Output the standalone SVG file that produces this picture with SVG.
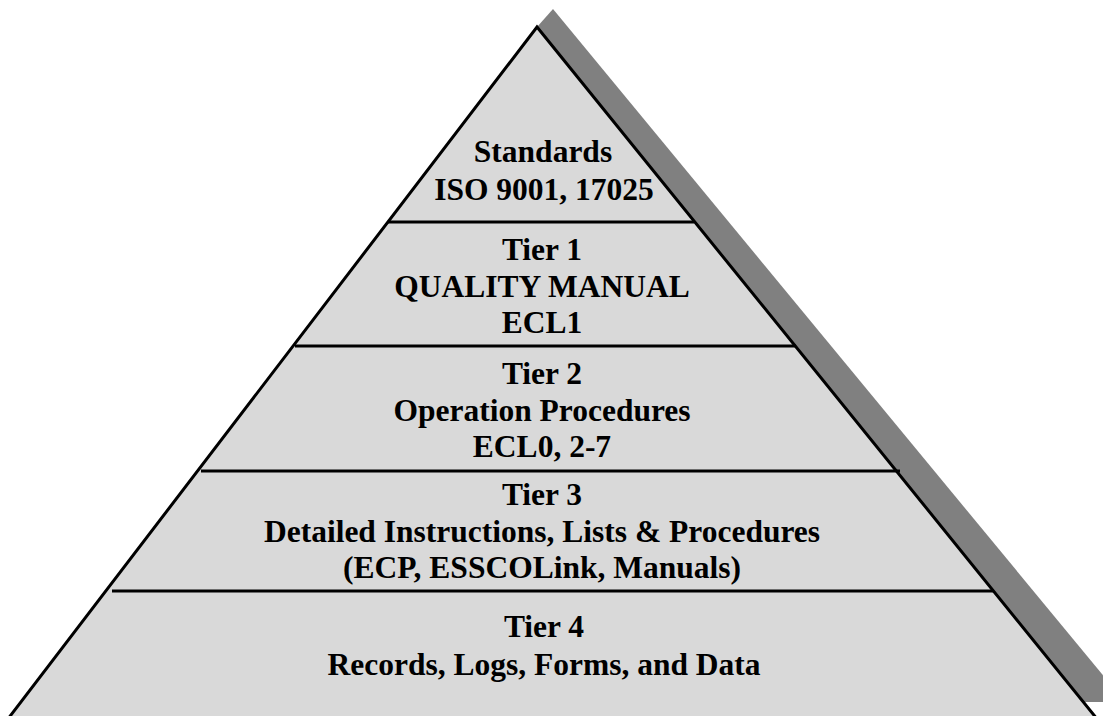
<svg xmlns="http://www.w3.org/2000/svg" width="1103" height="716" viewBox="0 0 1103 716">
  <style>
    .lbl { font-family: "Liberation Serif", "Times New Roman", serif; font-weight: bold; font-size: 31.5px; fill: #000; text-anchor: middle; }
    .div { stroke: #000; stroke-width: 3; }
  </style>
  <rect width="1103" height="716" fill="#ffffff"/>
  <g id="shadow">
    <polygon points="553,9 1125,702 600,702 537,27" fill="#808080"/>
  </g>
  <g id="pyramid">
    <polygon points="537,27 1106,730 -0.5,730" fill="#d9d9d9" stroke="#000" stroke-width="3" stroke-linejoin="miter"/>
  </g>
  <g id="dividers">
    <line class="div" x1="388" y1="222" x2="694" y2="222"/>
    <line class="div" x1="295" y1="346" x2="796" y2="346"/>
    <line class="div" x1="201" y1="471" x2="900" y2="471"/>
    <line class="div" x1="112" y1="591" x2="994" y2="591"/>
  </g>
  <g id="standards">
    <text class="lbl" x="543" y="162">Standards</text>
    <text class="lbl" x="544" y="200">ISO 9001, 17025</text>
  </g>
  <g id="tier1">
    <text class="lbl" x="542" y="260">Tier 1</text>
    <text class="lbl" x="542" y="297">QUALITY MANUAL</text>
    <text class="lbl" x="542" y="333">ECL1</text>
  </g>
  <g id="tier2">
    <text class="lbl" x="542" y="384">Tier 2</text>
    <text class="lbl" x="542" y="421">Operation Procedures</text>
    <text class="lbl" x="542" y="457">ECL0, 2-7</text>
  </g>
  <g id="tier3">
    <text class="lbl" x="542" y="505">Tier 3</text>
    <text class="lbl" x="542" y="542">Detailed Instructions, Lists &amp; Procedures</text>
    <text class="lbl" x="542" y="578">(ECP, ESSCOLink, Manuals)</text>
  </g>
  <g id="tier4">
    <text class="lbl" x="544" y="637">Tier 4</text>
    <text class="lbl" x="544" y="675">Records, Logs, Forms, and Data</text>
  </g>
  <g id="connectors"/>
</svg>
